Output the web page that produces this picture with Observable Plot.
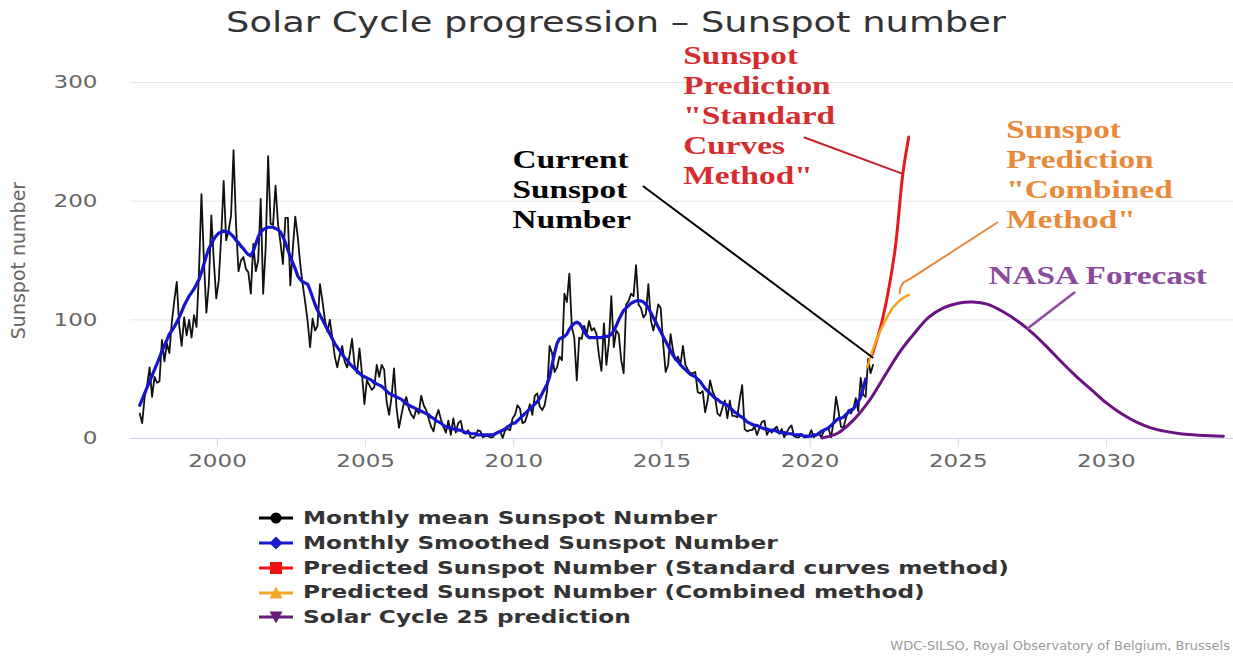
<!DOCTYPE html>
<html><head><meta charset="utf-8">
<script src="https://cdn.jsdelivr.net/npm/d3@7"></script>
<script src="https://cdn.jsdelivr.net/npm/@observablehq/plot@0.6"></script>
<style>
html,body{margin:0;padding:0;background:#fff;}
#wrap{position:relative;width:1233px;height:659px;overflow:hidden;background:#fff;}
#title{position:absolute;left:0;top:8px;width:1233px;text-align:center;font-family:"DejaVu Sans";font-size:29px;line-height:29px;color:#333;white-space:nowrap;}
#title span{display:inline-block;transform:scaleX(1.27);transform-origin:center;}
#chart{position:absolute;left:0;top:40px;}
#legend{position:absolute;left:258px;top:506px;font-family:"DejaVu Sans";font-weight:bold;font-size:18px;color:#333;}
.row{display:flex;align-items:center;height:24.75px;white-space:nowrap;}
.row svg{flex:none;margin-right:9px;}
.row span{display:inline-block;transform:scaleX(1.29);transform-origin:left center;line-height:24.75px;}
#credit{position:absolute;right:3px;top:638px;font-family:"DejaVu Sans";font-size:13px;line-height:16px;color:#999;white-space:nowrap;}
</style></head>
<body>
<div id="wrap">
  <div id="title"><span>Solar Cycle progression – Sunspot number</span></div>
  <div id="chart"></div>
  <div id="legend"></div>
  <div id="credit">WDC-SILSO, Royal Observatory of Belgium, Brussels</div>
</div>
<script>
// ---------- DATA ----------
const titleText = "Solar Cycle progression – Sunspot number";
const yLabel = "Sunspot number";
const xTicks = [2000, 2005, 2010, 2015, 2020, 2025, 2030];
const yTicks = [0, 100, 200, 300];

// Monthly mean sunspot number, starting May 1997
const meanStart = [1997, 5];
const monthlyMean = [
  21, 13, 35, 45, 60, 35, 52, 47,                       // 1997 (May-Dec)
  48, 83, 65, 80, 72, 98, 116, 132, 95, 78, 102, 87,    // 1998
  100, 85, 104, 94, 140, 206, 150, 106, 130, 188, 150, 118, // 1999
  133, 170, 217, 167, 175, 188, 243, 180, 141, 150, 153, 143, // 2000
  140, 122, 164, 141, 150, 202, 122, 160, 238, 181, 180, 213, // 2001
  181, 165, 147, 186, 186, 129, 160, 187, 170, 147, 130, 115, // 2002
  99, 77, 101, 91, 95, 130, 116, 100, 90, 100, 85, 69,  // 2003
  60, 70, 78, 65, 60, 70, 84, 62, 55, 76, 55, 29,       // 2004
  49, 45, 41, 43, 62, 52, 62, 58, 31, 20, 35, 59,       // 2005
  26, 9, 20, 30, 35, 25, 20, 17, 25, 21, 36, 28,        // 2006
  24, 17, 10, 6, 18, 24, 16, 10, 5, 15, 3, 17,          // 2007
  5, 13, 15, 5, 4, 7, 1, 0.5, 2, 7, 6, 1,               // 2008
  2, 2, 1, 1, 4, 5, 6, 0.5, 7, 8, 7, 17,                // 2009
  20, 28, 25, 13, 14, 20, 29, 20, 36, 38, 27, 24,       // 2010
  28, 40, 78, 72, 56, 60, 69, 66, 122, 115, 139, 94,    // 2011
  85, 49, 85, 84, 95, 88, 99, 91, 93, 88, 70, 57,       // 2012
  97, 62, 81, 120, 77, 91, 88, 66, 55, 113, 116, 122,   // 2013
  120, 146, 113, 110, 102, 105, 130, 100, 91, 100, 113, 110, // 2014
  80, 56, 62, 88, 74, 66, 69, 62, 78, 62, 58, 55,       // 2015
  55, 56, 39, 38, 40, 22, 32, 49, 40, 35, 21, 19,       // 2016
  26, 32, 17, 32, 19, 19, 18, 33, 45, 8, 6, 7,          // 2017
  7, 10, 3, 9, 14, 15, 3, 7, 5, 8, 10, 4,               // 2018
  8, 1, 5, 9, 11, 2, 1, 1, 4, 1, 1, 2,                  // 2019
  7, 1, 3, 5, 1, 6, 8, 8, 1, 14, 35, 23,                // 2020
  10, 9, 17, 24, 21, 25, 34, 23, 51, 37, 35, 67,        // 2021
  55, 62                                                // 2022 (Jan-Feb)
];

// Monthly smoothed sunspot number, starting May 1997
const smoothStart = [1997, 5];
const monthlySmoothed = [
  28, 33, 38, 43, 48, 53, 58, 63,                       // 1997
  68, 74, 78, 83, 88, 91, 94, 98, 102, 107, 112, 116,   // 1998
  120, 123, 126, 130, 134, 140, 147, 154, 160, 164, 168, 171, // 1999
  173, 174, 175, 174, 174, 172, 170, 167, 165, 162, 160, 157, // 2000
  155, 154, 158, 164, 170, 174, 176, 177, 178, 178, 178, 177, // 2001
  176, 174, 170, 165, 159, 153, 148, 143, 137, 134, 132, 131, // 2002
  130, 125, 119, 113, 108, 104, 100, 96, 92, 88, 84, 80, // 2003
  77, 74, 71, 68, 66, 63, 61, 59, 57, 55, 53, 52,       // 2004
  51, 50, 49, 47, 46, 45, 44, 42, 40, 38, 37, 36,       // 2005
  35, 34, 33, 31, 29, 28, 27, 26, 25, 24, 23, 22,       // 2006
  21, 20, 18, 17, 15, 14, 13, 11, 10, 9, 9, 8,          // 2007
  8, 7, 7, 6, 5, 5, 4, 4, 4, 3, 3, 3,                   // 2008
  3, 3, 3, 3, 4, 5, 6, 7, 8, 10, 11, 13,                // 2009
  13, 15, 17, 19, 21, 23, 25, 27, 29, 31, 34, 38,       // 2010
  42, 46, 52, 62, 72, 80, 84, 85, 86, 88, 92, 95,       // 2011
  97, 98, 97, 94, 90, 87, 85, 85, 85, 85, 85, 85,       // 2012
  86, 86, 86, 88, 91, 95, 100, 104, 108, 110, 112, 114, // 2013
  115, 116, 116, 116, 115, 113, 110, 106, 102, 98, 94, 90, // 2014
  86, 82, 78, 74, 70, 67, 65, 62, 60, 58, 56, 54,       // 2015
  53, 52, 50, 48, 45, 42, 40, 38, 36, 34, 33, 31,       // 2016
  30, 29, 28, 26, 24, 22, 21, 19, 18, 16, 14, 13,       // 2017
  12, 11, 11, 10, 9, 8, 8, 7, 7, 7, 6, 5,               // 2018
  5, 5, 4, 4, 4, 3, 3, 3, 3, 2, 2, 2,                   // 2019
  2, 3, 3, 4, 6, 7, 8, 9, 11, 13, 15, 17,               // 2020
  17, 18, 20, 22, 24, 25, 28, 31, 35, 42, 50            // 2021 (Jan-Nov)
];

// Predicted sunspot number (standard curves method)
const predStdYears  = [2022.10, 2022.43, 2022.85, 2023.13, 2023.33];
const predStdValues = [71, 99, 156, 223, 254];
// Predicted sunspot number (combined method)
const predCombYears  = [2021.93, 2022.15, 2022.49, 2022.82, 2023.11, 2023.33];
const predCombValues = [60, 77, 97, 111, 118, 121];
// Solar Cycle 25 prediction (NASA forecast)
const nasaYears  = [2020.4, 2020.9, 2021.4, 2022.0, 2022.5, 2023.0, 2023.5, 2024.0, 2024.5, 2025.0, 2025.5, 2026.0, 2026.5, 2027.0, 2027.5, 2028.0, 2028.5, 2029.0, 2029.5, 2030.0, 2030.5, 2031.0, 2031.5, 2032.0, 2032.5, 2033.0, 2033.5, 2033.95];
const nasaValues = [0.5, 4, 14, 32, 52, 72, 88, 102, 110, 114, 115, 113, 107, 99, 89, 77, 64, 52, 41, 30, 21, 14, 9, 6, 4, 3, 2.3, 2];

// Legend
const legendLabels = ["Monthly mean Sunspot Number", "Monthly Smoothed Sunspot Number", "Predicted Sunspot Number (Standard curves method)", "Predicted Sunspot Number (Combined method)", "Solar Cycle 25 prediction"];
const legendSymbols = ["circle", "diamond", "square", "triangle", "triangle-down"];
const creditText = "WDC-SILSO, Royal Observatory of Belgium, Brussels";

// Annotations (text lines, anchored in data coordinates)
const annCurrent = ["Current", "Sunspot", "Number"];
const annStd = ["Sunspot", "Prediction", "\"Standard", "Curves", "Method\""];
const annComb = ["Sunspot", "Prediction", "\"Combined", "Method\""];
const annNasa = ["NASA Forecast"];

// ---------- STYLES ----------
const colors = {mean: "#111111", smooth: "#1515cc", std: "#e3191c", comb: "#f6a21d", nasa: "#6b1381"};
const legendColors = ["#000000", "#1a1ad0", "#ee1111", "#f5a623", "#6a1b7a"];

// ---------- BUILD ----------
function monthly(start, values) {
  return values.map((v, i) => ({t: start[0] + (start[1] - 1 + i + 0.5) / 12, v}));
}
const meanData = monthly(meanStart, monthlyMean);
const smoothData = monthly(smoothStart, monthlySmoothed);
const zip = (xs, ys) => xs.map((x, i) => ({t: x, v: ys[i]}));
const stdData = zip(predStdYears, predStdValues);
const combData = zip(predCombYears, predCombValues);
const nasaData = zip(nasaYears, nasaValues);

const annotations = [
  {x: 2009.96, y: 235, lines: annCurrent, color: "#000000"},
  {x: 2015.72, y: 322.7, lines: annStd, color: "#d42d2f"},
  {x: 2026.62, y: 260.4, lines: annComb, color: "#e8893b"},
  {x: 2026.02, y: 137.3, lines: annNasa, color: "#8c4a9c"}
];
const pointers = [
  {pts: [[2014.38, 212.4], [2022.11, 68.3]], color: "#000000", w: 2},
  {pts: [[2019.81, 253.6], [2023.13, 223]], color: "#c8202a", w: 2},
  {pts: [[2023.02, 122.2], [2023.05, 127.2], [2023.15, 131.5], [2023.39, 134.8], [2026.32, 182]], color: "#e8893b", w: 2},
  {pts: [[2027.34, 92.7], [2028.92, 123]], color: "#8c4a9c", w: 2.5}
];

const annMarks = [];
for (const a of annotations) {
  a.lines.forEach((line, i) => {
    annMarks.push(Plot.text([a], {x: "x", y: "y", text: () => line, dy: i * 30, textAnchor: "start", lineAnchor: "middle",
      fill: a.color, fontFamily: "Liberation Serif", fontWeight: "bold", fontSize: 26}));
  });
}
const pointerMarks = pointers.map(p => Plot.line(p.pts, {x: d => d[0], y: d => d[1], stroke: p.color, strokeWidth: p.w}));

const chart = Plot.plot({
  width: 1233, height: 460,
  marginLeft: 130, marginRight: 0, marginTop: 42, marginBottom: 62,
  style: {fontFamily: "DejaVu Sans", fontSize: "18px", color: "#666", background: "transparent", overflow: "visible"},
  x: {domain: [1997.064, 2034.29]},
  y: {domain: [0, 300]},
  marks: [
    Plot.ruleY(yTicks.filter(d => d > 0), {stroke: "#e6e6e6", strokeWidth: 1}),
    Plot.ruleY([0], {stroke: "#ccd6eb", strokeWidth: 1}),
    Plot.axisX({ticks: xTicks, tickSize: 9, tickPadding: 7, stroke: "#ccd6eb", fill: "#666", tickFormat: d => String(d), label: null}),
    Plot.axisY({ticks: yTicks, tickSize: 0, tickPadding: 33, fill: "#666", label: null}),
    Plot.text([yLabel], {frameAnchor: "left", textAnchor: "middle", dx: -112, rotate: -90, fill: "#666", fontSize: 19}),
    Plot.line(meanData, {x: "t", y: "v", stroke: colors.mean, strokeWidth: 1.8}),
    Plot.line(smoothData, {x: "t", y: "v", stroke: colors.smooth, strokeWidth: 3.2}),
    Plot.line(nasaData, {x: "t", y: "v", stroke: colors.nasa, strokeWidth: 3, curve: "catmull-rom"}),
    Plot.line(stdData, {x: "t", y: "v", stroke: colors.std, strokeWidth: 3, curve: "catmull-rom"}),
    Plot.line(combData, {x: "t", y: "v", stroke: colors.comb, strokeWidth: 2.5, curve: "catmull-rom"}),
    ...pointerMarks,
    ...annMarks
  ]
});
document.getElementById("chart").appendChild(chart);

// horizontal stretch of text (reference is widened)
const K = 1.28;
chart.querySelectorAll("text").forEach(t => {
  if (t.querySelector("tspan")) return;
  const tr = t.getAttribute("transform") || "";
  if (tr.includes("rotate")) return;
  const L = t.getComputedTextLength();
  if (L > 0) { t.setAttribute("textLength", (L * K).toFixed(1)); t.setAttribute("lengthAdjust", "spacingAndGlyphs"); }
});

// legend
const sym = {
  "circle": c => `<circle cx="18" cy="12" r="5.5" fill="${c}"/>`,
  "diamond": c => `<path d="M18 5.5L24.5 12L18 18.5L11.5 12Z" fill="${c}"/>`,
  "square": c => `<rect x="12" y="6" width="12" height="12" fill="${c}"/>`,
  "triangle": c => `<path d="M18 5.5L24.5 17.5L11.5 17.5Z" fill="${c}"/>`,
  "triangle-down": c => `<path d="M11.5 6.5L24.5 6.5L18 18.5Z" fill="${c}"/>`
};
const legend = document.getElementById("legend");
legendLabels.forEach((label, i) => {
  const row = document.createElement("div");
  row.className = "row";
  const c = legendColors[i];
  row.innerHTML = `<svg width="36" height="24"><line x1="1" x2="35" y1="12" y2="12" stroke="${c}" stroke-width="3"/>${sym[legendSymbols[i]](c)}</svg><span>${label}</span>`;
  legend.appendChild(row);
});
document.querySelector("#title span").textContent = titleText;
document.getElementById("credit").textContent = creditText;
</script>
</body></html>
